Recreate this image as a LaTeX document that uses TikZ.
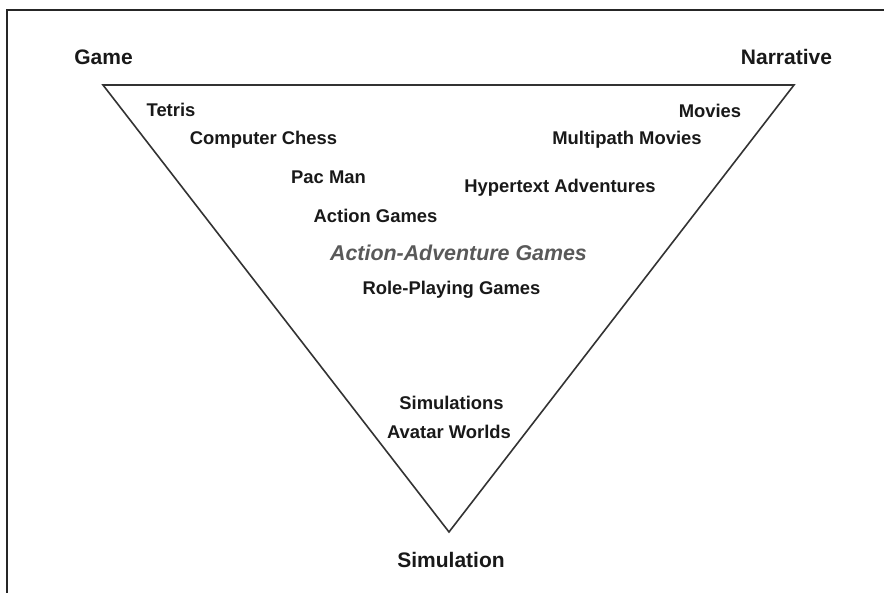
\documentclass[tikz,border=0pt]{standalone}
\usepackage{fontspec}
\setmainfont{Liberation Sans}
\begin{document}
\begin{tikzpicture}[x=1pt,y=1pt,
  item/.style={font=\fontsize{18.4}{20}\selectfont\bfseries, text=black!90, inner sep=0pt},
  corner/.style={font=\fontsize{21}{23}\selectfont\bfseries, text=black!90, inner sep=0pt},
  genre/.style={font=\fontsize{21.4}{23}\selectfont\bfseries\itshape, text=black!65, inner sep=0pt},
  edge/.style={draw=black!80, line width=1.6pt, line join=miter}]
\useasboundingbox (0,0) rectangle (884,593);
\fill[white] (0,0) rectangle (884,593);
% frame: top and left rules
\draw[black!85, line width=1.5pt] (7,0) -- (7,583) -- (884,583);
% triangle corners
\coordinate (G) at (103,508);
\coordinate (N) at (794,508);
\coordinate (S) at (449,61);
\draw[edge] (G) -- (N) -- (S) -- cycle;
% corner labels
\node[corner] (game) at (103.5,536) {Game};
\node[corner] (narr) at (786.5,536) {Narrative};
\node[corner] (sim) at (451,33) {Simulation};
% items
\node[item] (tetris) at (171,483) {Tetris};
\node[item] (chess) at (263.5,453) {Computer Chess};
\node[item] (pac) at (328.5,416) {Pac Man};
\node[item] (action) at (375.5,377) {Action Games};
\node[genre] (aag) at (458.5,340) {Action-Adventure Games};
\node[item] (rpg) at (451.5,303) {Role-Playing Games};
\node[item] (movies) at (710,482) {Movies};
\node[item] (multi) at (627,453) {Multipath Movies};
\node[item] (hyper) at (560,405) {Hypertext Adventures};
\node[item] (sims) at (451.5,190) {Simulations};
\node[item] (avatar) at (449,161) {Avatar Worlds};
\end{tikzpicture}
\end{document}
